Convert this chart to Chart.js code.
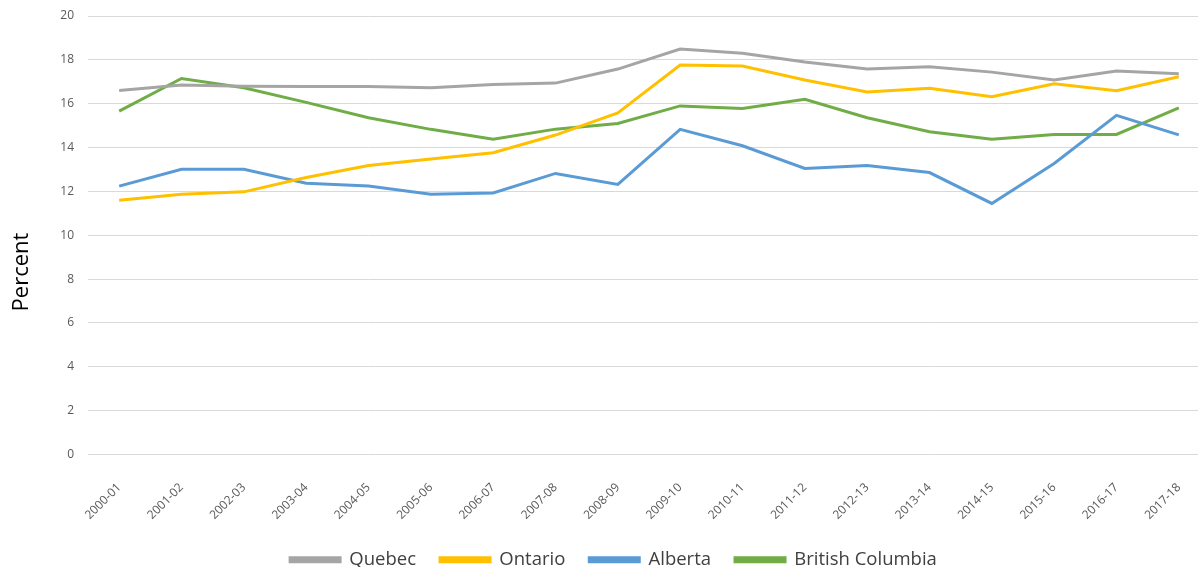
<!DOCTYPE html>
<html>
<head>
<meta charset="utf-8">
<script src="https://cdn.jsdelivr.net/npm/chart.js@4/dist/chart.umd.min.js"></script>
<style>
    html, body { margin: 0; padding: 0; background: #fff; overflow: hidden; }
    .chartBox { position: relative; width: 1215px; height: 579px; }
</style>
</head>
<body>
<div class="chartBox">
    <canvas id="share-chart"></canvas>
</div>
<script>
const years = ['2000-01', '2001-02', '2002-03', '2003-04', '2004-05', '2005-06', '2006-07', '2007-08', '2008-09',
    '2009-10', '2010-11', '2011-12', '2012-13', '2013-14', '2014-15', '2015-16', '2016-17', '2017-18'];
const quebec = [16.6, 16.85, 16.8, 16.78, 16.78, 16.73, 16.88, 16.94, 17.58, 18.49, 18.3, 17.9, 17.58, 17.69, 17.44, 17.08, 17.49, 17.37];
const ontario = [11.6, 11.87, 11.98, 12.63, 13.18, 13.48, 13.76, 14.57, 15.58, 17.76, 17.72, 17.08, 16.53, 16.7, 16.32, 16.91, 16.59, 17.23];
const alberta = [12.24, 13.01, 13.01, 12.37, 12.25, 11.87, 11.93, 12.82, 12.32, 14.83, 14.08, 13.05, 13.18, 12.86, 11.45, 13.27, 15.47, 14.58];
const britishColumbia = [15.66, 17.15, 16.73, 16.06, 15.36, 14.83, 14.38, 14.84, 15.1, 15.9, 15.78, 16.2, 15.36, 14.72, 14.38, 14.6, 14.6, 15.81];
const yTitle = 'Percent';

// y axis title drawn by hand so it can sit a bit lower than the axis centre
const yTitlePlugin = {
    id: 'yTitle',
    afterDraw(chart) {
        const ctx = chart.ctx;
        ctx.save();
        ctx.translate(22, 272);
        ctx.rotate(-Math.PI / 2);
        ctx.font = '22px "Open Sans"';
        ctx.fillStyle = '#000';
        ctx.textAlign = 'center';
        ctx.textBaseline = 'middle';
        ctx.fillText(yTitle, 0, 0);
        ctx.restore();
    }
};

function series(label, data, color) {
    return {
        label: label,
        data: data,
        borderColor: color,
        backgroundColor: color,
        borderWidth: 3,
        pointRadius: 0,
        tension: 0,
        fill: false
    };
}

const ctx = document.getElementById('share-chart').getContext('2d');
new Chart(ctx, {
    type: 'line',
    data: {
        labels: years,
        datasets: [
            series('Quebec', quebec, '#a5a5a5'),
            series('Ontario', ontario, '#ffc000'),
            series('Alberta', alberta, '#5b9bd5'),
            series('British Columbia', britishColumbia, '#70ad47')
        ]
    },
    plugins: [yTitlePlugin],
    options: {
        responsive: true,
        maintainAspectRatio: false,
        animation: false,
        layout: {
            padding: { left: 12, right: 0, top: 16, bottom: 0 }
        },
        plugins: {
            tooltip: { enabled: false },
            legend: {
                position: 'bottom',
                labels: {
                    boxWidth: 50,
                    boxHeight: 4,
                    padding: 24,
                    color: '#404040',
                    font: { family: '"Open Sans"', size: 18.5 }
                }
            }
        },
        scales: {
            x: {
                offset: true,
                grid: { display: false, drawTicks: false },
                border: { display: false },
                afterFit: function (scale) { scale.height = 72; },
                ticks: {
                    minRotation: 45,
                    maxRotation: 45,
                    autoSkip: false,
                    padding: 26,
                    color: '#595959',
                    font: { family: '"Open Sans"', size: 12 }
                }
            },
            y: {
                min: 0,
                max: 20,
                afterFit: function (scale) {
                    scale.width = 76;
                    scale.paddingTop = 0;
                    scale.paddingBottom = 0;
                },
                grid: { color: '#d9d9d9', lineWidth: 1, drawTicks: false },
                border: { display: false },
                ticks: {
                    stepSize: 2,
                    padding: 14,
                    color: '#595959',
                    font: { family: '"Open Sans"', size: 12 }
                }
            }
        }
    }
});
</script>
</body>
</html>
